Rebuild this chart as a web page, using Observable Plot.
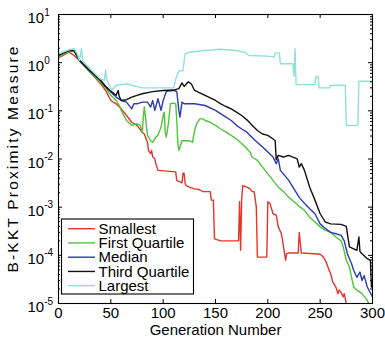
<!DOCTYPE html>
<html><head><meta charset="utf-8">
<script src="https://cdn.jsdelivr.net/npm/d3@7"></script>
<script src="https://cdn.jsdelivr.net/npm/@observablehq/plot@0.6"></script>
<style>body{margin:0;background:#fff}</style>
</head><body><div id="chart"></div>
<script>
const seriesNames = ["Smallest", "First Quartile", "Median", "Third Quartile", "Largest"];
const seriesColors = ["#e4352b", "#4cc63a", "#2a3cae", "#111111", "#8fe0d8"];

const smallest = [[0,1.26],[10,1.65],[15,1.41],[20,1.11],[30,0.64],[40,0.37],[45,0.265],[50,0.164],[55,0.14],[60,0.11],[65,0.08],[70,0.058],[75,0.05],[80,0.036],[82,0.033],[85,0.022],[86,0.015],[88,0.0129],[89,0.015],[90,0.011],[92,0.0101],[93,0.008],[95,0.0058],[112,0.0054],[113,0.0036],[118,0.0032],[119,0.0051],[120,0.0051],[121,0.0031],[122,0.0028],[125,0.0026],[130,0.0024],[135,0.0023],[138,0.0021],[145,0.0021],[146,0.0014],[148,0.0014],[149,0.00022],[155,0.0002],[172,0.0002],[173,0.0013],[174,0.000127],[175,0.0014],[176,0.0028],[180,0.0026],[183,0.0024],[185,0.0021],[187,0.0021],[189,0.001],[190,0.000092],[199,0.000092],[200,0.0013],[202,0.0012],[205,0.00073],[208,0.00068],[210,0.00039],[213,0.00028],[215,0.00015],[217,0.000079],[218,0.000108],[220,0.000112],[229,0.000112],[230,0.0003],[232,0.000112],[245,0.000108],[250,0.000105],[253,0.000092],[255,0.000079],[258,0.000053],[260,0.000042],[262,0.000028],[265,0.000022],[267,0.000016],[268,0.000019],[270,0.000017],[272,0.0000137],[273,0.000016],[275,0.0000099],[276,0.000009]];

const firstQuartile = [[0,1.3],[10,1.71],[15,1.71],[20,1.08],[30,0.64],[40,0.39],[45,0.3],[50,0.21],[55,0.164],[58,0.129],[60,0.102],[65,0.063],[70,0.05],[75,0.054],[78,0.05],[80,0.036],[81,0.074],[82,0.12],[84,0.05],[85,0.031],[88,0.024],[90,0.022],[93,0.0285],[95,0.031],[98,0.046],[100,0.08],[101,0.094],[102,0.036],[103,0.0285],[105,0.054],[107,0.14],[110,0.145],[112,0.14],[113,0.063],[114,0.021],[115,0.015],[118,0.024],[125,0.024],[128,0.022],[130,0.039],[132,0.054],[135,0.068],[138,0.068],[140,0.063],[145,0.058],[150,0.05],[155,0.042],[160,0.036],[165,0.031],[170,0.026],[175,0.021],[180,0.0163],[183,0.0139],[185,0.011],[190,0.0094],[195,0.0068],[200,0.0049],[205,0.0036],[210,0.0026],[215,0.0021],[220,0.0016],[225,0.0013],[230,0.00104],[235,0.00086],[240,0.00062],[245,0.00049],[250,0.00039],[255,0.00033],[260,0.0003],[265,0.00024],[270,0.0002],[272,0.00015],[275,0.000079],[278,0.000057],[280,0.000035],[282,0.000022],[285,0.000019],[290,0.000016],[295,0.0000116],[297,0.0000095]];

const median = [[0,1.41],[10,1.79],[15,1.79],[20,1.11],[30,0.67],[40,0.43],[45,0.32],[50,0.245],[55,0.193],[60,0.164],[65,0.152],[70,0.11],[72,0.14],[75,0.14],[80,0.152],[85,0.152],[88,0.12],[90,0.164],[92,0.102],[95,0.178],[98,0.102],[100,0.164],[103,0.252],[105,0.256],[110,0.265],[113,0.252],[115,0.102],[116,0.074],[118,0.152],[120,0.14],[130,0.14],[140,0.129],[150,0.102],[160,0.074],[165,0.063],[170,0.05],[175,0.042],[180,0.036],[185,0.028],[190,0.022],[195,0.0177],[200,0.0139],[205,0.011],[208,0.008],[210,0.0101],[212,0.0058],[220,0.0036],[225,0.0024],[230,0.0016],[235,0.0012],[240,0.00093],[245,0.00073],[250,0.00045],[255,0.00036],[260,0.0003],[265,0.00028],[270,0.00026],[273,0.0002],[276,0.000108],[280,0.000067],[282,0.000049],[285,0.000035],[288,0.000045],[290,0.00003],[292,0.000038],[295,0.000022],[300,0.0000137]];

const thirdQuartile = [[0,1.41],[10,1.79],[15,1.79],[20,1.11],[30,0.69],[40,0.43],[45,0.32],[50,0.256],[55,0.21],[57,0.265],[58,0.2],[60,0.164],[65,0.17],[70,0.193],[75,0.21],[80,0.226],[90,0.25],[100,0.265],[110,0.27],[115,0.29],[118,0.38],[120,0.32],[124,0.4],[127,0.36],[130,0.265],[140,0.21],[150,0.164],[155,0.14],[160,0.123],[165,0.11],[170,0.094],[175,0.08],[180,0.065],[185,0.05],[190,0.039],[195,0.033],[200,0.031],[205,0.026],[207,0.024],[208,0.0097],[210,0.0119],[215,0.011],[220,0.0119],[228,0.0101],[230,0.0068],[232,0.008],[235,0.0058],[240,0.0026],[245,0.0014],[250,0.00073],[255,0.00049],[260,0.00045],[270,0.00044],[275,0.0004],[276,0.00028],[278,0.00015],[285,0.000127],[287,0.00024],[288,0.00012],[290,0.000108],[295,0.000085],[298,0.000079],[299,0.000022],[300,0.00003]];

const largest = [[0,1.53],[10,1.85],[15,1.94],[18,1.5],[20,1.11],[22,1.94],[23,1.1],[30,0.75],[40,0.46],[44,0.43],[45,0.71],[46,0.45],[48,0.36],[51,0.27],[55,0.34],[65,0.36],[80,0.3],[100,0.3],[110,0.3],[112,0.46],[115,0.67],[119,0.69],[121,1.53],[125,1.65],[140,1.79],[155,1.9],[170,1.79],[178,1.65],[182,1.41],[200,1.37],[206,1.3],[207,1.6],[211,1.6],[212,0.95],[224,0.95],[225,0.52],[226,1.94],[227,0.35],[245,0.35],[246,0.52],[248,0.52],[249,0.3],[259,0.3],[260,0.34],[274,0.34],[275,0.05],[286,0.05],[287,0.41],[300,0.41]];

const xTicks = [0, 50, 100, 150, 200, 250, 300];
const yTicks = [1e-5, 1e-4, 1e-3, 1e-2, 1e-1, 1, 10];
const yExponents = ["-5", "-4", "-3", "-2", "-1", "0", "1"];
const yMinor = [];
for (let e = -5; e < 1; e++) for (let k = 2; k <= 9; k++) yMinor.push(k * Math.pow(10, e));

const series = [smallest, firstQuartile, median, thirdQuartile, largest];
const font = "Liberation Sans, Arial, Helvetica, sans-serif";

const W = 385, H = 344, mL = 58, mR = 13, mT = 14, mB = 41;
const fw = W - mL - mR, fh = H - mT - mB;

const chart = Plot.plot({
  width: W, height: H,
  marginLeft: mL, marginRight: mR, marginTop: mT, marginBottom: mB,
  style: {fontFamily: font, fontSize: "15px", background: "white", color: "black"},
  x: {domain: [0, 300], axis: null},
  y: {type: "log", domain: [1e-5, 10], axis: null},
  marks: [
    ...series.map((s, i) => Plot.line(s, {x: d => d[0], y: d => d[1], stroke: seriesColors[i], strokeWidth: 1.4, clip: true})),
    Plot.frame({stroke: "black", strokeWidth: 1.1}),
    Plot.tickX(xTicks, {x: d => d, insetTop: fh - 4, stroke: "black"}),
    Plot.tickX(xTicks, {x: d => d, insetBottom: fh - 4, stroke: "black"}),
    Plot.tickY(yTicks, {y: d => d, insetLeft: fw - 4, stroke: "black"}),
    Plot.tickY(yTicks, {y: d => d, insetRight: fw - 4, stroke: "black"}),
    Plot.tickY(yMinor, {y: d => d, insetLeft: fw - 2, stroke: "black"}),
    Plot.tickY(yMinor, {y: d => d, insetRight: fw - 2, stroke: "black"}),
    Plot.text(xTicks, {x: d => d, text: d => String(d), frameAnchor: "bottom", lineAnchor: "top", dy: 4, fontSize: 15, fill: "black"}),
    Plot.text(yTicks, {y: d => d, text: () => "10", frameAnchor: "left", textAnchor: "start", dx: -31, dy: 3.7, fontSize: 15, fill: "black"}),
    Plot.text(yTicks, {y: d => d, text: (d, i) => yExponents[i], frameAnchor: "left", textAnchor: "start", dx: -14.3, dy: -2.2, fontSize: 10, fill: "black"}),
    Plot.text(["Generation Number"], {frameAnchor: "bottom", lineAnchor: "top", dy: 21, fontSize: 15, fill: "black"})
  ]
});
document.getElementById("chart").appendChild(chart);

const svg = d3.select(chart);

// y-axis label
svg.append("text")
  .attr("transform", `translate(13.5,${mT + fh / 2 + 1}) rotate(-90)`)
  .attr("text-anchor", "middle").attr("dy", "0.32em")
  .attr("font-family", font).attr("font-size", 15.5).attr("fill", "black")
  .attr("textLength", 226).attr("lengthAdjust", "spacing")
  .text("B-KKT Proximity Measure");

// legend
const lg = svg.append("g").attr("font-family", font).attr("font-size", 15).attr("text-anchor", "start");
lg.append("rect").attr("x", 61.5).attr("y", 219).attr("width", 132).attr("height", 75)
  .attr("fill", "white").attr("stroke", "black").attr("stroke-width", 1.1);
seriesNames.forEach((n, i) => {
  const cy = 228.7 + i * 14.25;
  lg.append("line").attr("x1", 68).attr("x2", 95).attr("y1", cy).attr("y2", cy)
    .attr("stroke", seriesColors[i]).attr("stroke-width", 1.4);
  lg.append("text").attr("x", 98.5).attr("y", cy + 5.2).attr("text-anchor", "start").attr("fill", "black").text(n);
});
</script>
</body></html>
